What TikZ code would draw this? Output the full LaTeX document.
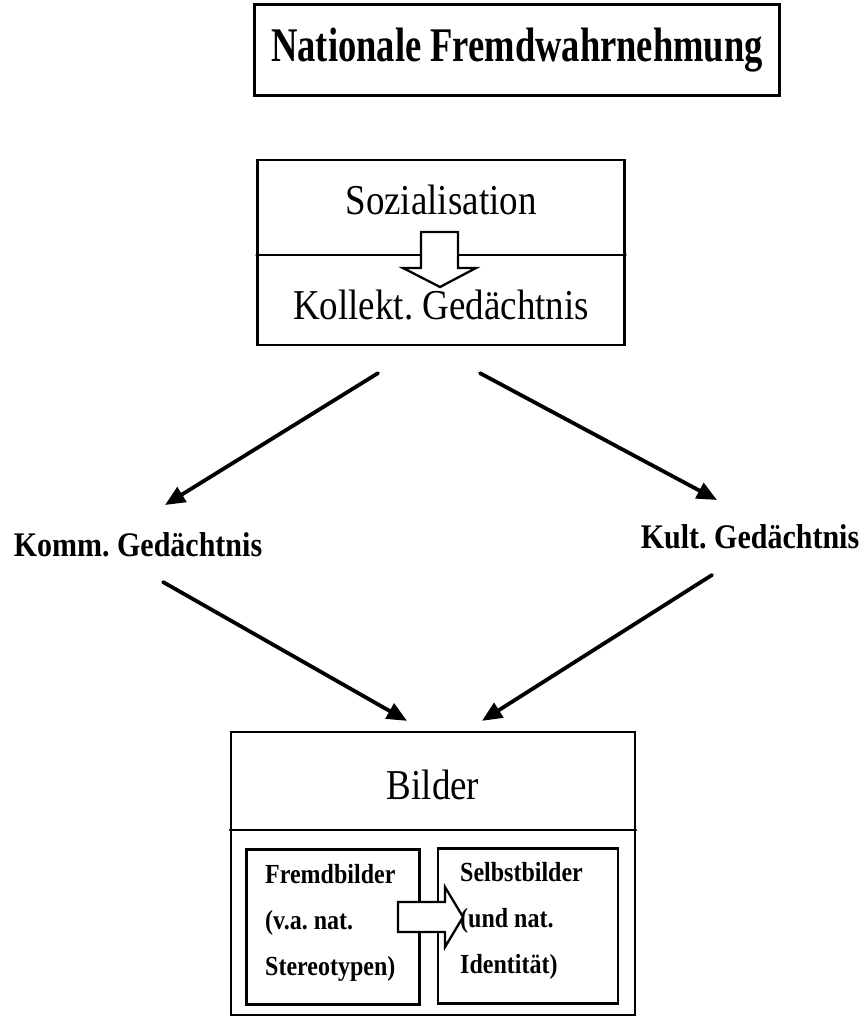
\documentclass[tikz,border=0pt]{standalone}
\usepackage{fontspec}
\setmainfont{Liberation Serif}
\usetikzlibrary{arrows.meta,positioning}
\newcommand{\tallx}[1]{\scalebox{1}[1.15]{#1}}
\newcommand{\titlex}[1]{\scalebox{0.87}[1.15]{#1}}
\tikzset{>={Triangle[length=20pt,width=17pt]},
  box/.style={draw, line width=2.3pt},
  lbl/.style={font=\fontsize{37}{40}\selectfont, inner sep=0pt},
  mem/.style={font=\bfseries\fontsize{30}{34}\selectfont, inner sep=0pt},
  smalltxt/.style={font=\bfseries\fontsize{24}{46}\selectfont, align=left,
    anchor=north west, inner sep=0pt},
  flow/.style={->, line width=3.8pt},
  blockarr/.style={draw, line width=2.3pt, fill=white, line join=miter}}

\begin{document}
\frenchspacing
\begin{tikzpicture}[x=1pt,y=-1pt,line cap=round]
\useasboundingbox (0,0) rectangle (863,1024);

% title
\node[draw, line width=3.5pt, minimum width=525pt, minimum height=91pt,
  font=\bfseries\fontsize{42}{46}\selectfont] (title) at (517,50)
  {\titlex{Nationale Fremdwahrnehmung}};

% Sozialisation box
\node[box, minimum width=367pt, minimum height=185pt] (soz) at (441,252.5) {};
\draw[line width=2.3pt] (soz.west |- 0,255) -- (soz.east |- 0,255);
\node[lbl] (sozt) at (441,200) {\tallx{Sozialisation}};
\node[lbl] (koll) at (441,305) {\tallx{Kollekt. Gedächtnis}};
\draw[blockarr] (421,232) -- (458,232) -- (458,268) -- (476,268)
  -- (440,287) -- (403,268) -- (421,268) -- cycle;

% the two memories
\node[mem] (komm) at (138,545) {\tallx{Komm. Gedächtnis}};
\node[mem] (kult) at (750,537) {\tallx{Kult. Gedächtnis}};

% Bilder box
\node[box, minimum width=404pt, minimum height=283pt] (bild) at (433,873.5) {};
\draw[line width=2.3pt] (bild.west |- 0,830) -- (bild.east |- 0,830);
\node[lbl] (bildt) at (433,785) {\tallx{Bilder}};
\node[box, minimum width=173pt, minimum height=155pt] (fremd) at (333,927) {};
\node[box, minimum width=180pt, minimum height=155pt] (selbst) at (528,926) {};
\node[smalltxt] (fremdt) at (265,864)
  {\tallx{Fremdbilder}\\\tallx{(v.a. nat.}\\\tallx{Stereotypen)}};
\node[smalltxt] (selbstt) at (460,862)
  {\tallx{Selbstbilder}\\\tallx{(und nat.}\\\tallx{Identität)}};
\draw[blockarr] (398,902) -- (445,902) -- (445,887) -- (463,917)
  -- (445,947) -- (445,932) -- (398,932) -- cycle;

% arrows
\draw[flow] ([xshift=-63pt,yshift=-27pt]soz.south) -- ([xshift=27pt,yshift=40pt]komm.center);
\draw[flow] ([xshift=39pt,yshift=-27pt]soz.south) -- ([xshift=-33pt,yshift=37pt]kult.center);
\draw[flow] ([xshift=25pt,yshift=-37pt]komm.center) -- ([xshift=-26pt,yshift=10pt]bild.north);
\draw[flow] ([xshift=-38pt,yshift=-38pt]kult.center) -- ([xshift=49pt,yshift=10pt]bild.north);

\end{tikzpicture}
\end{document}
